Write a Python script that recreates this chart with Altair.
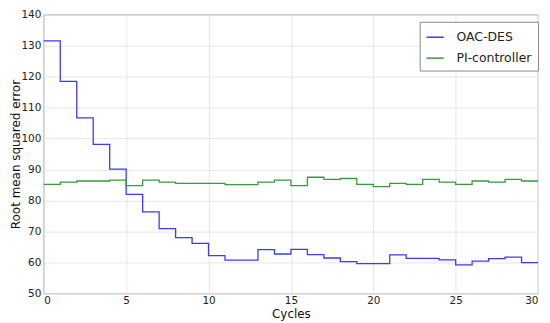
import altair as alt
import pandas as pd

cycles = list(range(31))
oac_des = [131.6, 118.5, 106.7, 98.1, 90.1, 82.0, 76.3, 70.9, 68.0, 66.1,
           62.2, 60.7, 60.7, 64.1, 62.7, 64.2, 62.5, 61.4, 60.2, 59.6,
           59.6, 62.4, 61.3, 61.3, 60.8, 59.2, 60.4, 61.2, 61.7, 59.9, 59.9]
pi_controller = [85.2, 85.9, 86.3, 86.3, 86.6, 84.8, 86.6, 85.9, 85.5, 85.5,
                 85.5, 85.1, 85.1, 85.9, 86.6, 84.8, 87.5, 86.8, 87.1, 85.2,
                 84.5, 85.5, 85.2, 86.8, 85.9, 85.2, 86.3, 85.9, 86.8, 86.3, 86.3]
series_names = ["OAC-DES", "PI-controller"]
series_colors = ["#3a3aff", "#3a9a3a"]

df = pd.concat([
    pd.DataFrame({"Cycles": cycles, "RMSE": oac_des, "Series": series_names[0]}),
    pd.DataFrame({"Cycles": cycles, "RMSE": pi_controller, "Series": series_names[1]}),
])

font = "DejaVu Sans"
left_pad = 36
top_pad = 6

chart = alt.Chart(df).mark_line(interpolate="step-after", strokeWidth=1.3).encode(
    x=alt.X("Cycles:Q", title="Cycles",
            scale=alt.Scale(domain=[0, 30], nice=False, zero=False),
            axis=alt.Axis(values=[0, 5, 10, 15, 20, 25, 30], format="d")),
    y=alt.Y("RMSE:Q", title="Root mean squared error",
            scale=alt.Scale(domain=[50, 140], nice=False, zero=False),
            axis=alt.Axis(values=list(range(50, 141, 10)), format="d",
                          titleX=-(left_pad - 7.5), titleBaseline="middle")),
    color=alt.Color("Series:N", sort=series_names,
                    scale=alt.Scale(domain=series_names, range=series_colors),
                    legend=alt.Legend(title=None, orient="none", legendX=378, legendY=7,
                                      symbolType="stroke", symbolSize=300,
                                      symbolStrokeWidth=1.5, labelFontSize=12.5,
                                      labelFont=font, labelColor="#222222",
                                      fillColor="white", strokeColor="#888888",
                                      padding=6, rowPadding=5, labelOffset=12)),
).properties(
    width=497, height=280,
    autosize=alt.AutoSizeParams(type="none"),
    padding={"left": left_pad, "top": top_pad, "right": 4, "bottom": 29},
).configure_view(
    stroke="#999999", strokeWidth=1.2
).configure_axis(
    grid=True, gridColor="#e6e6e6", gridWidth=1,
    domain=False, ticks=False,
    labelFont=font, labelFontSize=10.5, labelColor="#222222",
    titleFont=font, titleFontSize=12, titleFontWeight="normal", titleColor="#111111",
).configure_axisX(
    labelPadding=2, titlePadding=3
).configure_axisY(
    labelPadding=3, labelBaseline="middle"
)

chart.save("out.html", embed_options={"renderer": "svg", "actions": False})
